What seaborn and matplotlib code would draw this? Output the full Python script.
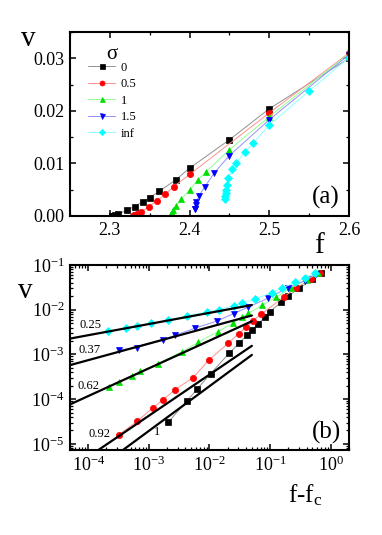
import matplotlib

matplotlib.use("Agg")
import matplotlib.pyplot as plt
import numpy as np
import pandas as pd
import seaborn as sns
from matplotlib.ticker import LogLocator, MultipleLocator, FormatStrFormatter, NullFormatter

# sigma series: threshold f_c and distance above it (f - f_c), velocity v
sigma_labels = ["0", "0.5", "1", "1.5", "inf"]
f_c = [2.300, 2.329, 2.376, 2.406, 2.4445]

df_s0 = [0.0021, 0.0042, 0.0063, 0.0104, 0.0209, 0.031, 0.0415, 0.050, 0.062, 0.083, 0.10, 0.15, 0.20, 0.30, 0.50, 0.70]
v_s0 = [3.1e-5, 8.9e-5, 1.7e-4, 3.7e-4, 1.05e-3, 1.8e-3, 2.7e-3, 3.5e-3, 4.7e-3, 6.9e-3, 9.1e-3, 0.0145, 0.0204, 0.0300, 0.0484, 0.065]

df_s05 = [3.2e-4, 6.4e-4, 1.15e-3, 1.68e-3, 2.7e-3, 5.3e-3, 0.010, 0.0203, 0.0302, 0.0405, 0.0513, 0.071, 0.171, 0.271, 0.471, 0.671]
v_s05 = [1.6e-5, 3.2e-5, 6.3e-5, 9.4e-5, 1.63e-4, 3.0e-4, 7.7e-4, 1.77e-3, 2.92e-3, 4.1e-3, 5.6e-3, 7.9e-3, 0.0196, 0.0310, 0.0484, 0.065]

df_s1 = [2.2e-4, 3.2e-4, 5.3e-4, 7.2e-4, 1.4e-3, 3.5e-3, 6.5e-3, 0.0137, 0.0243, 0.034, 0.044, 0.074, 0.124, 0.224, 0.40, 0.624]
v_s1 = [1.84e-4, 2.47e-4, 3.25e-4, 4.17e-4, 6.2e-4, 1.15e-3, 1.86e-3, 3.24e-3, 4.98e-3, 6.8e-3, 8.3e-3, 0.0126, 0.0189, 0.0309, 0.0472, 0.065]

df_s15 = [3.2e-4, 6.4e-4, 1.7e-3, 2.7e-3, 5.7e-3, 0.0134, 0.025, 0.044, 0.094, 0.194, 0.37, 0.57]
v_s15 = [1.26e-3, 1.42e-3, 2.08e-3, 2.67e-3, 3.84e-3, 5.6e-3, 8.2e-3, 0.0115, 0.0183, 0.0307, 0.0444, 0.0644]

df_inf = [2.1e-4, 4.2e-4, 6.4e-4, 1.07e-3, 2.1e-3, 4.2e-3, 9.2e-3, 0.0143, 0.025, 0.035, 0.0555, 0.1055, 0.1555, 0.256, 0.37, 0.56]
v_inf = [3.29e-3, 3.84e-3, 4.41e-3, 4.92e-3, 5.87e-3, 7.3e-3, 8.9e-3, 0.0101, 0.0122, 0.0138, 0.0173, 0.0238, 0.0301, 0.0408, 0.0505, 0.0655]

# power-law fits shown in panel (b)
fit_exponents = [0.25, 0.37, 0.62, 0.92, 1.0]
fit_prefactors = [0.0269, 0.0225, 0.0354, 0.0245, 0.0195]
fit_range = [5e-5, 0.05]
fit_labels = ["0.25", "0.37", "0.62", "0.92", "1"]

all_df = [df_s0, df_s05, df_s1, df_s15, df_inf]
all_v = [v_s0, v_s05, v_s1, v_s15, v_inf]
marker_colors = ["#000000", "#ff0000", "#00e000", "#0000ff", "#00ffff"]
line_colors = ["#909090", "#ff9090", "#90ff90", "#9090ff", "#90ffff"]
markers = ["s", "o", "^", "v", "D"]
msizes = [4.5, 4.5, 4.5, 4.5, 4]

sns.set_theme(style="ticks")
plt.rcParams["font.family"] = ["Liberation Serif", "DejaVu Serif"]
plt.rcParams["mathtext.fontset"] = "stix"
plt.rcParams["axes.linewidth"] = 1.5
for key in ("axes.edgecolor", "xtick.color", "ytick.color", "text.color",
            "xtick.labelcolor", "ytick.labelcolor"):
    plt.rcParams[key] = "black"

fig = plt.figure(figsize=(3.82, 5.35), dpi=100)
ax1 = fig.add_axes([0.1832, 0.5963, 0.7304, 0.3439])
ax2 = fig.add_axes([0.1832, 0.1589, 0.7304, 0.3458])
ax2.set_xscale("log")
ax2.set_yscale("log")

for i, lbl in enumerate(sigma_labels):
    d = pd.DataFrame({"x": all_df[i], "v": all_v[i]})
    d["f"] = f_c[i] + d["x"]
    style = dict(color=line_colors[i], marker=markers[i], markersize=msizes[i],
                 markerfacecolor=marker_colors[i], markeredgecolor=marker_colors[i],
                 markeredgewidth=0.5, linewidth=0.7, estimator=None, sort=False)
    sns.lineplot(data=d, x="f", y="v", ax=ax1, label=lbl, **style)
    sns.lineplot(data=d, x="x", y="v", ax=ax2, legend=False, **style)

for beta, amp in zip(fit_exponents, fit_prefactors):
    xf = np.array(fit_range)
    sns.lineplot(x=xf, y=amp * xf ** beta, ax=ax2, color="black", linewidth=1.6,
                 estimator=None, legend=False)

# panel (a)
ax1.set_xlim(2.25, 2.6)
ax1.set_ylim(0, 0.035)
ax1.xaxis.set_major_locator(MultipleLocator(0.1))
ax1.xaxis.set_minor_locator(MultipleLocator(0.05))
ax1.yaxis.set_major_locator(MultipleLocator(0.01))
ax1.yaxis.set_minor_locator(MultipleLocator(0.005))
ax1.yaxis.set_major_formatter(FormatStrFormatter("%.2f"))

# panel (b)
ax2.set_xlim(5e-5, 2)
ax2.set_ylim(7.3e-6, 0.1)
for axis in (ax2.xaxis, ax2.yaxis):
    axis.set_major_locator(LogLocator(base=10, numticks=20))
    axis.set_minor_locator(LogLocator(base=10, subs=np.arange(2, 10), numticks=20))
    axis.set_minor_formatter(NullFormatter())

for ax in (ax1, ax2):
    ax.set_xlabel("")
    ax.set_ylabel("")
    ax.tick_params(which="both", direction="in", top=True, right=True, labelsize=13, pad=4)
    ax.tick_params(which="major", length=4.5, width=1.1)
    ax.tick_params(which="minor", length=2.5, width=0.9)
    for s in ax.spines.values():
        s.set_linewidth(1.5)
        s.set_color("black")

ax1.legend(loc="upper left", bbox_to_anchor=(0.0645, 0.838), frameon=False,
           fontsize=9, handlelength=2.2, handletextpad=0.4,
           labelspacing=0.36, borderpad=0, borderaxespad=0, markerscale=0.8)
ax1.text(0.151, 0.88, "σ", transform=ax1.transAxes, fontsize=15, ha="center", va="center")

ax1.text(-0.15, 0.962, "v", transform=ax1.transAxes, fontsize=21, ha="center", va="center")
ax1.text(0.892, -0.165, "f", transform=ax1.transAxes, fontsize=21, ha="center", va="center")
ax1.text(0.918, 0.098, "(a)", transform=ax1.transAxes, fontsize=18, ha="center", va="center")

ax2.text(-0.161, 0.859, "v", transform=ax2.transAxes, fontsize=21, ha="center", va="center")
ax2.text(0.842, -0.243, "f-f$_\\mathregular{c}$", transform=ax2.transAxes, fontsize=18, ha="center", va="center")
ax2.text(0.921, 0.097, "(b)", transform=ax2.transAxes, fontsize=18, ha="center", va="center")

fit_label_pos = [(90, 325), (90, 350), (88, 386), (99, 434), (157, 432)]
for txt, (px, py) in zip(fit_labels, fit_label_pos):
    fig.text(px / 382, 1 - py / 535, txt, fontsize=9, ha="center", va="center")

fig.savefig("out.png", dpi=100)
